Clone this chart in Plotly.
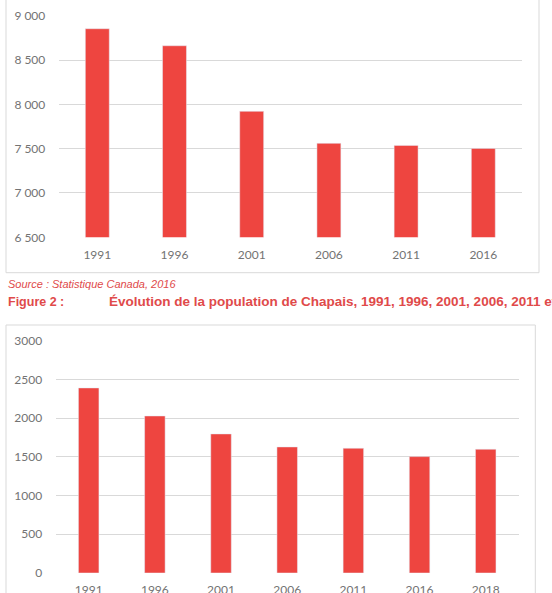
import plotly.graph_objects as go

W, H = 552, 593

years_1 = ["1991", "1996", "2001", "2006", "2011", "2016"]
pop_1 = [8853, 8661, 7921, 7560, 7537, 7503]
yticks_1 = [6500, 7000, 7500, 8000, 8500, 9000]
yticklabels_1 = ["6 500", "7 000", "7 500", "8 000", "8 500", "9 000"]

years_2 = ["1991", "1996", "2001", "2006", "2011", "2016", "2018"]
pop_2 = [2390, 2028, 1796, 1628, 1611, 1503, 1598]
yticks_2 = [0, 500, 1000, 1500, 2000, 2500, 3000]

source_text = "Source : Statistique Canada, 2016"
fig_label = "Figure 2 :"
fig_title = "Évolution de la population de Chapais, 1991, 1996, 2001, 2006, 2011 et 2018"

BAR = "#EE4540"
GRID = "#D9D9D9"
TICK = "#737373"
RED_TXT = "#E04A4A"

def px_x(p):
    return p / W

def px_y(p):
    return 1 - p / H

fig = go.Figure()
fig.add_trace(go.Bar(x=years_1, y=pop_1, marker_color=BAR, xaxis="x", yaxis="y",
                     hoverinfo="skip"))
fig.add_trace(go.Bar(x=years_2, y=pop_2, marker_color=BAR, xaxis="x2", yaxis="y2",
                     hoverinfo="skip"))

tickfont = dict(family="Lato, Open Sans, sans-serif", size=12, color=TICK)
common_x = dict(showgrid=False, zeroline=False, showline=False, ticks="outside",
                ticklen=6, tickcolor="rgba(0,0,0,0)", tickfont=tickfont, fixedrange=True,
                automargin=False)
common_y = dict(showgrid=True, gridcolor=GRID, gridwidth=1, zeroline=False, showline=False,
                ticks="outside", ticklen=10, tickcolor="rgba(0,0,0,0)", tickfont=tickfont,
                fixedrange=True, automargin=False)

fig.update_layout(
    width=W, height=H,
    margin=dict(l=0, r=0, t=0, b=0, pad=0),
    paper_bgcolor="white", plot_bgcolor="white",
    showlegend=False,
    bargap=0.69,
    xaxis=dict(domain=[px_x(58.7), px_x(521.9)], anchor="y", **common_x),
    yaxis=dict(domain=[px_y(237.3), px_y(15.7)], range=[6500, 9000], anchor="x",
               tickvals=yticks_1, ticktext=yticklabels_1, **common_y),
    xaxis2=dict(domain=[px_x(55.6), px_x(518.8)], anchor="y2", **common_x),
    yaxis2=dict(domain=[px_y(573), px_y(340.7)], range=[0, 3000], anchor="x2",
                tickvals=yticks_2, **common_y),
    shapes=[
        dict(type="rect", xref="paper", yref="paper",
             x0=px_x(6), x1=px_x(539), y0=px_y(272.7), y1=px_y(-5),
             line=dict(color=GRID, width=1), layer="below"),
        dict(type="rect", xref="paper", yref="paper",
             x0=px_x(6), x1=px_x(535.3), y0=px_y(600), y1=px_y(325),
             line=dict(color=GRID, width=1), layer="below"),
    ],
    annotations=[
        dict(text=source_text, xref="paper", yref="paper", x=px_x(6), y=px_y(284),
             xanchor="left", yanchor="middle", showarrow=False,
             font=dict(family="Liberation Sans, Arial, sans-serif", size=11, color=RED_TXT,
                       style="italic")),
        dict(text="<b>" + fig_label + "</b>", xref="paper", yref="paper", x=px_x(6), y=px_y(302),
             xanchor="left", yanchor="middle", showarrow=False,
             font=dict(family="Liberation Sans, Arial, sans-serif", size=12.5, color=RED_TXT)),
        dict(text="<b>" + fig_title + "</b>", xref="paper", yref="paper", x=px_x(106.7), y=px_y(302),
             xanchor="left", yanchor="middle", showarrow=False,
             font=dict(family="Liberation Sans, Arial, sans-serif", size=13.5, color=RED_TXT)),
    ],
)

fig.write_html("out.html")
